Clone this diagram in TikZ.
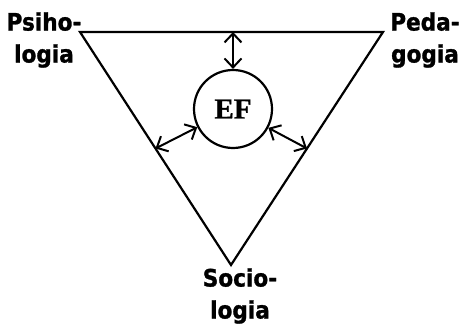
\documentclass[tikz,border=0pt]{standalone}
\usepackage{fontspec}
\usetikzlibrary{arrows.meta,calc}
\newfontfamily\labfont[FakeStretch=0.9,FakeBold=1.2]{DejaVu Sans}
\newfontfamily\effont[FakeBold=1]{Liberation Serif}
\tikzset{
  lab/.style={font=\labfont\bfseries\fontsize{24}{32}\selectfont, align=center, inner sep=0pt},
  edge/.style={line width=2.2pt, line join=miter},
  barb/.tip={Straight Barb[length=9pt,width=17pt,line width=2pt]},
  link/.style={line width=2pt, barb-barb},
}
\begin{document}
\begin{tikzpicture}[x=1pt,y=-1pt]
\useasboundingbox (0,0) rectangle (465,326);
\coordinate (A) at (80,32);
\coordinate (B) at (383,32);
\coordinate (C) at (231,265);
\draw[edge] (A) -- (B) -- (C) -- cycle;
\node[circle, draw, line width=2.2pt, minimum size=78pt, inner sep=0pt, font=\effont\bfseries\fontsize{29}{32}\selectfont] (EF) at (233,109) {EF};
\coordinate (mt) at ($(A)!(EF)!(B)$);
\coordinate (ml) at ($(A)!0.5!(C)$);
\coordinate (mr) at ($(B)!0.5!(C)$);
\draw[link] (mt) -- (EF);
\draw[link] (ml) -- (EF);
\draw[link] (mr) -- (EF);
\node[lab] (psi) at (44,40) {Psiho-\\logia};
\node[lab] (ped) at (425,40) {Peda-\\gogia};
\node[lab] (soc) at (240,296) {Socio-\\logia};
\end{tikzpicture}
\end{document}
